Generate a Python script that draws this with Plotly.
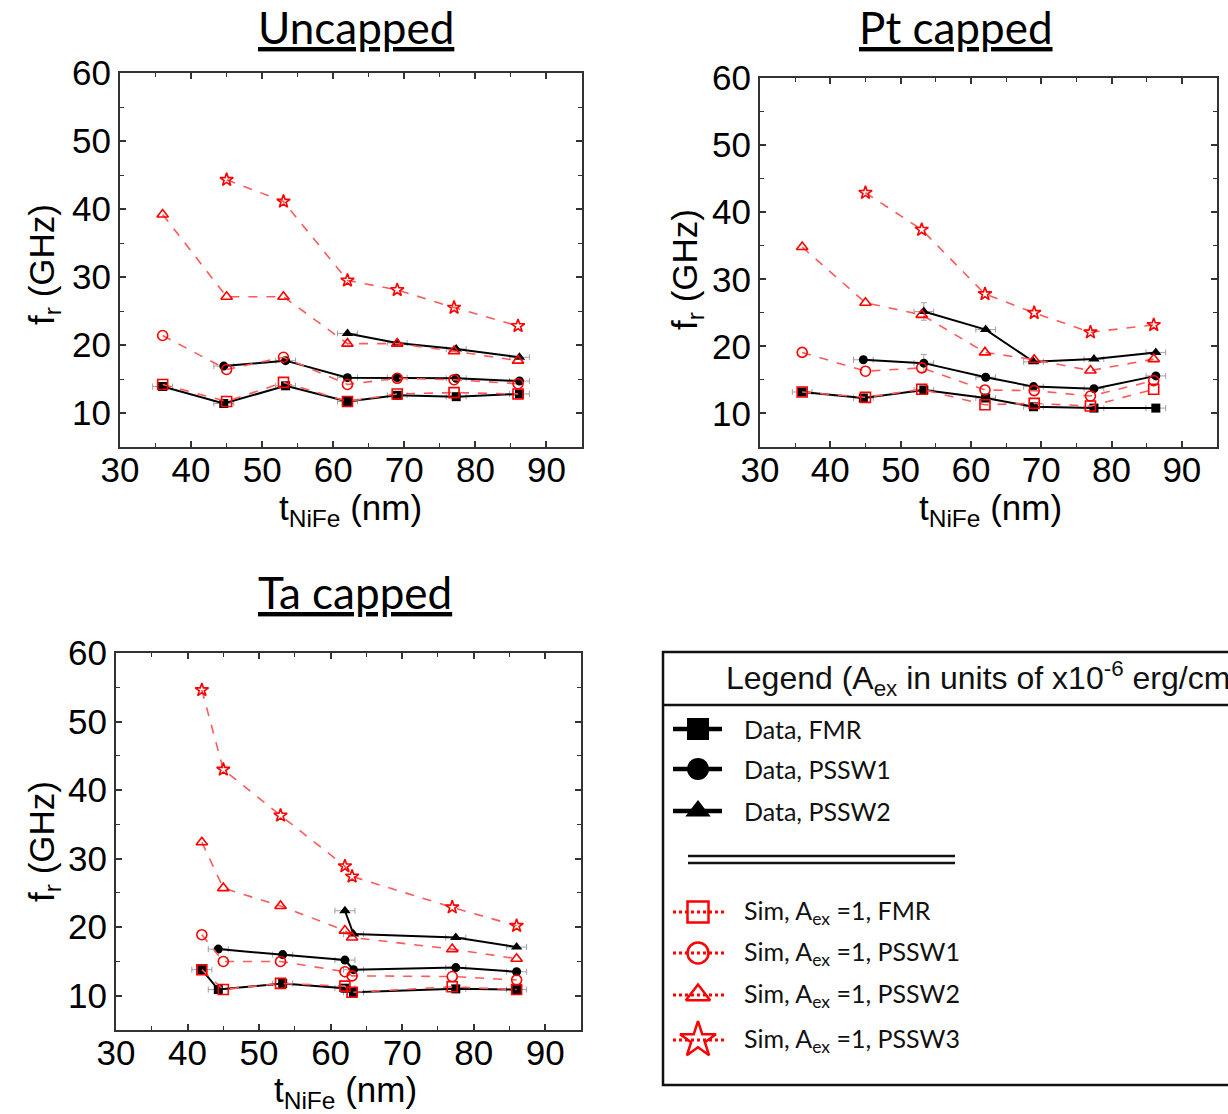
import plotly.graph_objects as go

W, H = 1228, 1114

# ---------------- data ----------------
unc_sim_x = [36, 45, 53, 62, 69, 77, 86]
unc_sim_fmr = [14.2, 11.7, 14.5, 11.7, 12.8, 13.0, 12.8]
unc_sim_pssw1 = [21.4, 16.4, 18.2, 14.2, 15.1, 14.9, 14.3]
unc_sim_pssw2 = [39.2, 27.1, 27.1, 20.2, 20.2, 19.1, 17.7]
unc_sim_pssw3 = [None, 44.3, 41.1, 29.5, 28.1, 25.5, 22.8]
unc_dat_x = [36, 44.6, 53.3, 62, 69, 77.3, 86.2]
unc_dat_fmr = [13.9, 11.4, 14.0, 11.7, 12.6, 12.4, 12.8]
unc_dat_pssw1 = [None, 16.9, 17.7, 15.2, 15.2, 15.1, 14.7]
unc_dat_pssw2 = [None, None, None, 21.7, 20.3, 19.4, 18.2]

pt_sim_x = [36, 45, 53, 62, 69, 77, 86]
pt_sim_fmr = [13.2, 12.4, 13.6, 11.3, 11.5, 11.1, 13.6]
pt_sim_pssw1 = [19.1, 16.3, 16.8, 13.5, 13.4, 12.6, 14.9]
pt_sim_pssw2 = [34.8, 26.5, 24.7, 19.1, 18.0, 16.4, 18.1]
pt_sim_pssw3 = [None, 42.9, 37.4, 27.8, 25.0, 22.1, 23.2]
pt_dat_x = [36, 44.7, 53.3, 62.1, 68.9, 77.5, 86.3]
pt_dat_fmr = [13.2, 12.3, 13.5, 12.3, 11.0, 10.8, 10.8]
pt_dat_pssw1 = [None, 18.0, 17.5, 15.4, 14.0, 13.7, 15.6]
pt_dat_pssw2 = [None, None, 25.2, 22.5, 17.7, 18.1, 19.1]
pt_dat_pssw_yerr = [0, 0, 1.3, 0, 0, 0, 0]

ta_sim_x = [42, 45, 53, 62, 63, 77, 86]
ta_sim_fmr = [13.8, 10.9, 11.8, 11.4, 10.5, 11.3, 10.9]
ta_sim_pssw1 = [18.9, 15.0, 15.0, 13.5, 12.9, 12.8, 12.3]
ta_sim_pssw2 = [32.4, 25.7, 23.1, 19.5, 18.5, 16.8, 15.4]
ta_sim_pssw3 = [54.6, 43.0, 36.3, 28.9, 27.4, 22.9, 20.2]
ta_dat_x = [42, 44.3, 53.3, 62, 63.2, 77.5, 86]
ta_dat_fmr = [13.8, 10.9, 11.8, 11.1, 10.5, 11.0, 10.9]
ta_dat_pssw1 = [None, 16.8, 16.0, 15.2, 13.8, 14.1, 13.5]
ta_dat_pssw2 = [None, None, None, 22.4, 19.0, 18.5, 17.1]

x_err = 1.4

panel_titles = ["Uncapped", "Pt capped", "Ta capped"]
x_title = "t<sub>NiFe</sub> (nm)"
y_title = "f<sub>r</sub> (GHz)"
x_ticks = [30, 40, 50, 60, 70, 80, 90]
y_ticks = [10, 20, 30, 40, 50, 60]

legend_title = "Legend (A<sub>ex</sub> in units of x10<sup>-6</sup> erg/cm)"
legend_data_labels = ["Data, FMR", "Data, PSSW1", "Data, PSSW2"]
legend_sim_labels = ["Sim, A<sub>ex</sub> =1, FMR", "Sim, A<sub>ex</sub> =1, PSSW1",
                     "Sim, A<sub>ex</sub> =1, PSSW2", "Sim, A<sub>ex</sub> =1, PSSW3"]

# ---------------- styles ----------------
BLACK = "#000000"
RED = "#ff0000"
RED_LINE = "#ff5a5a"
GRAY = "#a0a0a0"
data_symbols = ["square", "circle", "triangle-up"]
sim_symbols = ["square-open", "circle-open", "triangle-up-open", "star-open"]
TICK_FONT = dict(family="Liberation Sans, Arial", size=35, color="black")
TITLE_FONT = dict(family="Liberation Sans, Arial", size=35, color="black")
CAL = "Lato, Noto Sans, sans-serif"

fig = go.Figure()

panels = [
    (unc_sim_x, [unc_sim_fmr, unc_sim_pssw1, unc_sim_pssw2, unc_sim_pssw3],
     unc_dat_x, [unc_dat_fmr, unc_dat_pssw1, unc_dat_pssw2], None),
    (pt_sim_x, [pt_sim_fmr, pt_sim_pssw1, pt_sim_pssw2, pt_sim_pssw3],
     pt_dat_x, [pt_dat_fmr, pt_dat_pssw1, pt_dat_pssw2], pt_dat_pssw_yerr),
    (ta_sim_x, [ta_sim_fmr, ta_sim_pssw1, ta_sim_pssw2, ta_sim_pssw3],
     ta_dat_x, [ta_dat_fmr, ta_dat_pssw1, ta_dat_pssw2], None),
]

for i, (sx, sims, dx, dats, yerr) in enumerate(panels):
    xa = "x" if i == 0 else f"x{i+1}"
    ya = "y" if i == 0 else f"y{i+1}"
    for j, ys in enumerate(dats):
        ey = None
        if yerr is not None and j > 0:
            ey = dict(type="data", array=yerr, color=GRAY, thickness=1, width=3)
        fig.add_trace(go.Scatter(
            x=dx, y=ys, xaxis=xa, yaxis=ya, mode="lines+markers",
            line=dict(color=BLACK, width=2),
            marker=dict(symbol=data_symbols[j], size=9 if j != 2 else 10, color=BLACK),
            error_x=dict(type="constant", value=x_err, color=GRAY, thickness=1, width=3),
            error_y=ey, showlegend=False, cliponaxis=False))
    for j, ys in enumerate(sims):
        fig.add_trace(go.Scatter(
            x=sx, y=ys, xaxis=xa, yaxis=ya, mode="lines+markers",
            line=dict(color=RED_LINE, width=1.6, dash="dash"),
            marker=dict(symbol=sim_symbols[j], size=10 if j < 3 else 10, color=RED,
                        line=dict(width=1.6, color=RED)),
            showlegend=False, cliponaxis=False))

# domains (pixels)
boxes = [(120, 582, 73, 447), (760, 1217, 78, 447), (116, 581, 653, 1030)]
layout = {}
for i, (x0, x1, y0, y1) in enumerate(boxes):
    k = "" if i == 0 else str(i + 1)
    common = dict(showline=True, linecolor="#333333", linewidth=2, mirror="ticks",
                  ticks="inside", ticklen=6, tickwidth=1.5, tickcolor="#333333",
                  showgrid=False, zeroline=False, tickfont=TICK_FONT, automargin=False,
                  minor=dict(ticks="inside", ticklen=4, tickwidth=1.2, tickcolor="#333333", dtick=5))
    layout["xaxis" + k] = dict(domain=[x0 / W, x1 / W], range=[30, 95], tickvals=x_ticks,
                               anchor="y" + k, ticklabelstandoff=-9, **common)
    layout["yaxis" + k] = dict(domain=[(H - y1) / H, (H - y0) / H], range=[5, 60], tickvals=y_ticks,
                               anchor="x" + k, **common)

# overlay axis in pixel units for the legend samples
layout["xaxis4"] = dict(domain=[0, 1], range=[0, W], visible=False, anchor="y4",
                        fixedrange=True, automargin=False)
layout["yaxis4"] = dict(domain=[0, 1], range=[H, 0], visible=False, anchor="x4",
                        fixedrange=True, automargin=False)

fig.update_layout(width=W, height=H, margin=dict(l=0, r=0, t=0, b=0, autoexpand=False),
                  paper_bgcolor="white", plot_bgcolor="rgba(0,0,0,0)", showlegend=False,
                  **layout)


def px_ann(text, x, y, font, xanchor="center", yanchor="middle", angle=0):
    fig.add_annotation(text=text, x=x / W, y=(H - y) / H, xref="paper", yref="paper",
                       showarrow=False, xanchor=xanchor, yanchor=yanchor, textangle=angle,
                       font=font)


# panel titles
title_pos = [(356, 27), (956, 27), (355, 592)]
for t, (cx, cy) in zip(panel_titles, title_pos):
    px_ann(f"<u>{t}</u>", cx, cy, dict(family=CAL, size=44, color="black"))

# axis titles
for (cx, cy) in [(350, 510), (990, 510), (345, 1092)]:
    px_ann(x_title, cx, cy, TITLE_FONT)
for (cx, cy) in [(44, 265), (687, 270), (44, 842)]:
    px_ann(y_title, cx, cy, TITLE_FONT, angle=-90)

# ---------------- custom legend ----------------
LX0, LY0, LY1, LSEP = 663, 652, 1085, 705
fig.add_shape(type="rect", xref="paper", yref="paper", x0=LX0 / W, x1=1.2,
              y0=(H - LY1) / H, y1=(H - LY0) / H, line=dict(color="#111111", width=2.5))
fig.add_shape(type="line", xref="paper", yref="paper", x0=LX0 / W, x1=1.2,
              y0=(H - LSEP) / H, y1=(H - LSEP) / H, line=dict(color="#111111", width=2.5))
for yy in (856, 863):
    fig.add_shape(type="line", xref="paper", yref="paper", x0=688 / W, x1=955 / W,
                  y0=(H - yy) / H, y1=(H - yy) / H, line=dict(color="#111111", width=2.5))
px_ann(legend_title, 724, 678, dict(family="Liberation Sans, Arial", size=32, color="#111111"),
       xanchor="left")

data_rows = [729, 769, 811]
sim_rows = [912, 953, 995, 1040]
for j, (lab, yy) in enumerate(zip(legend_data_labels, data_rows)):
    fig.add_trace(go.Scatter(x=[673, 722], y=[yy, yy], xaxis="x4", yaxis="y4", mode="lines",
                             line=dict(color=BLACK, width=4.5), showlegend=False, hoverinfo="skip"))
    fig.add_trace(go.Scatter(x=[698], y=[yy], xaxis="x4", yaxis="y4", mode="markers",
                             marker=dict(symbol=data_symbols[j], size=22, color=BLACK),
                             showlegend=False, hoverinfo="skip"))
    px_ann(lab, 742, yy, dict(family=CAL, size=25, color="#111111"), xanchor="left")
for j, (lab, yy) in enumerate(zip(legend_sim_labels, sim_rows)):
    fig.add_trace(go.Scatter(x=[673, 724], y=[yy, yy], xaxis="x4", yaxis="y4", mode="lines",
                             line=dict(color=RED, width=3, dash="dot"), showlegend=False, hoverinfo="skip"))
    fig.add_trace(go.Scatter(x=[698], y=[yy], xaxis="x4", yaxis="y4", mode="markers",
                             marker=dict(symbol=sim_symbols[j], size=21 if j < 3 else 27, color=RED,
                                         line=dict(width=2.5, color=RED)),
                             showlegend=False, hoverinfo="skip"))
    px_ann(lab, 742, yy, dict(family=CAL, size=25, color="#111111"), xanchor="left")

fig.write_html("out.html")
